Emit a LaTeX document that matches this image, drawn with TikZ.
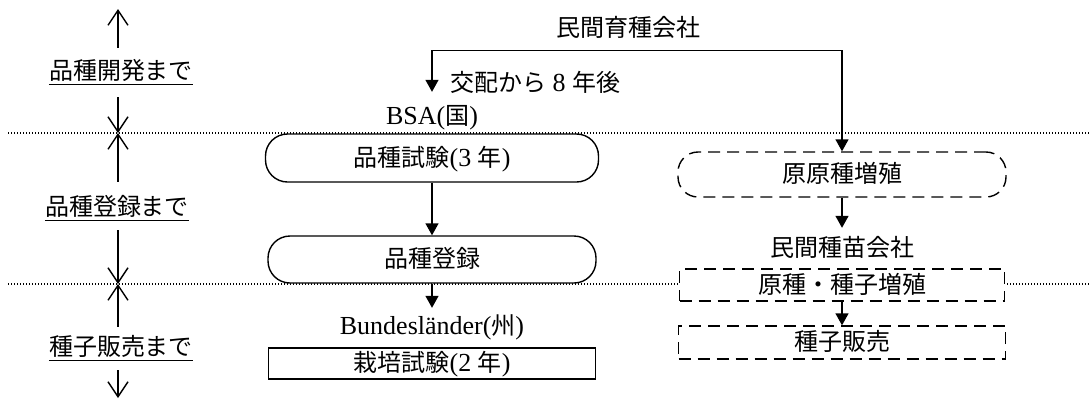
\documentclass[tikz,border=0pt]{standalone}
\usepackage{fontspec}
\setmainfont{Liberation Serif}
\newfontfamily\J{Noto Sans CJK JP}[Scale=0.923]
\usetikzlibrary{arrows.meta}
\begin{document}
\begin{tikzpicture}[x=1pt,y=-1pt,
  every node/.style={font=\fontsize{26}{31}\selectfont},
  lbl/.style={inner sep=0pt, text height=20pt, text depth=4pt},
  boxbase/.style={draw, line width=1.4pt, fill=white, inner sep=0pt, text height=20pt, text depth=4pt},
  rbox/.style={boxbase, rounded corners=22pt},
  drbox/.style={boxbase, rounded corners=20pt, dash pattern=on 12pt off 7pt},
  dbox/.style={boxbase, dash pattern=on 12pt off 7pt},
  sbox/.style={boxbase},
  farr/.style={line width=1.4pt, -{Triangle[length=12pt,width=13pt]}},
  oarr/.style={line width=1.4pt, -{Straight Barb[length=15pt,width=20pt]}},
  divider/.style={line width=1.2pt, dash pattern=on 1.2pt off 1.8pt},
  uline/.style={line width=1.4pt}
]
\useasboundingbox (0,0) rectangle (1091,408);

% dividers
\draw[divider] (8,133) -- (1091,133);
\draw[divider] (8,284) -- (1091,284);

% left axis coordinates
\coordinate (c0) at (118,9);
\coordinate (d1) at (118,133);
\coordinate (d2) at (118,284);
\coordinate (c3) at (118,398);

% left labels
\node[lbl] (l1) at (121,71) {\J 品種開発まで};
\node[lbl] (l2) at (117,207.5) {\J 品種登録まで};
\node[lbl] (l3) at (121,347.5) {\J 種子販売まで};
\draw[uline] ([yshift=-1pt]l1.south west) -- ([yshift=-1pt]l1.south east);
\draw[uline] ([yshift=-1pt]l2.south west) -- ([yshift=-1pt]l2.south east);
\draw[uline] ([yshift=-1pt]l3.south west) -- ([yshift=-1pt]l3.south east);

\draw[oarr, shorten <=11pt] (l1.north -| c0) -- (c0);
\draw[oarr, shorten <=14pt] (l1.south -| c0) -- (d1);
\draw[oarr, shorten <=13.5pt] (l2.north -| c0) -- (d1);
\draw[oarr, shorten <=10.5pt] (l2.south -| c0) -- (d2);
\draw[oarr, shorten <=8.5pt] (l3.north -| c0) -- (d2);
\draw[oarr, shorten <=10.5pt] (l3.south -| c0) -- (c3);

% top
\node[lbl] (top) at (628,28) {\J 民間育種会社};
\coordinate (tl) at ([yshift=-10pt]top.south);
\node[lbl, anchor=west] (kh) at (450,83) {{\J 交配から} 8 {\J 年後}};

% middle column
\node[lbl] (bsa) at (432,116) {BSA({\J 国})};
\node[rbox, minimum width=333pt, minimum height=48pt] (b1) at (432,158) {{\J 品種試験}(3 {\J 年})};
\node[rbox, minimum width=328pt, minimum height=47pt] (b2) at (432,259.5) {\J 品種登録};
\node[lbl] (bl) at (432,326) {Bundesländer({\J 州})};
\node[sbox, minimum width=327pt, minimum height=31pt] (b3) at (432,363.5) {{\J 栽培試験}(2 {\J 年})};

% right column
\node[drbox, minimum width=328pt, minimum height=45pt] (r1) at (842,174.5) {\J 原原種増殖};
\node[lbl] (sm) at (842,248) {\J 民間種苗会社};
\node[dbox, minimum width=325pt, minimum height=32pt] (r2) at (842,285) {\J 原種・種子増殖};
\node[dbox, minimum width=327pt, minimum height=33pt] (r3) at (842,342.5) {\J 種子販売};

% connectors
\draw[farr, shorten >=12pt] (tl) -| (bsa.north);
\draw[farr] (tl) -| (r1.north);
\draw[farr] (b1.south) -- (b2.north);
\draw[farr, shorten >=6pt] (b2.south) -- (bl.north);
\draw[farr, shorten >=8pt] (r1.south) -- (sm.north);
\draw[farr] (r2.south) -- (r3.north);
\end{tikzpicture}
\end{document}
